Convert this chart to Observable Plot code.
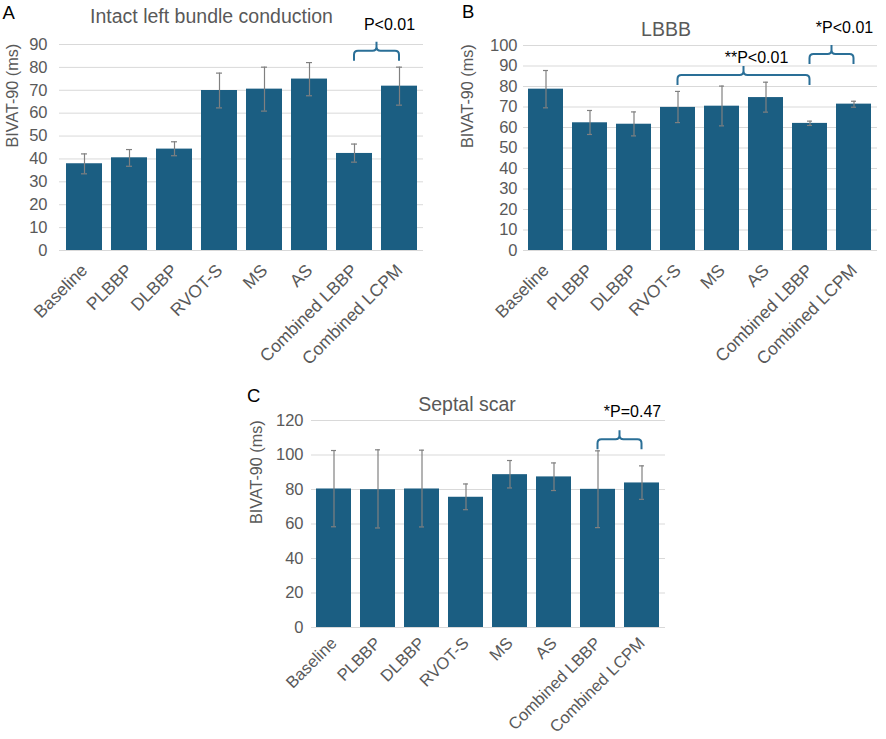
<!DOCTYPE html>
<html><head><meta charset="utf-8">
<script src="https://cdn.jsdelivr.net/npm/d3@7"></script>
<script src="https://cdn.jsdelivr.net/npm/@observablehq/plot@0.6"></script>
<style>
body{margin:0;background:#fff;font-family:"Liberation Sans",Arial,sans-serif;}
#fig{position:relative;width:886px;height:739px;overflow:hidden;background:#fff;}
.panel{position:absolute;}
.letter{position:absolute;font-size:18.5px;line-height:1;color:#000;}
.title{position:absolute;font-size:19.5px;line-height:1;color:#595959;transform:translateX(-50%);white-space:nowrap;}
</style></head><body><div id="fig"></div>
<script>
const categories = ["Baseline","PLBBP","DLBBP","RVOT-S","MS","AS","Combined LBBP","Combined LCPM"];
const yLabel = "BIVAT-90 (ms)";

// Panel A: Intact left bundle conduction
const intactMean = [37.9, 40.5, 44.3, 69.9, 70.5, 74.9, 42.4, 71.8];
const intactLow  = [33.5, 36.8, 41.4, 62.3, 60.9, 67.6, 38.6, 63.5];
const intactHigh = [42.2, 44.1, 47.5, 77.5, 80.1, 82.1, 46.5, 80.1];
const intactTicks = [0,10,20,30,40,50,60,70,80,90];
const intactBrackets = [
  {from:"Combined LBBP", to:"Combined LCPM", level:87, labelLevel:96.1, label:"P<0.01"}
];

// Panel B: LBBB
const lbbbMean = [78.7, 62.3, 61.6, 69.8, 70.4, 74.6, 62.0, 71.4];
const lbbbLow  = [69.6, 56.6, 55.9, 62.4, 60.8, 67.5, 61.0, 69.9];
const lbbbHigh = [87.8, 68.3, 67.6, 77.6, 80.2, 82.1, 63.1, 72.8];
const lbbbTicks = [0,10,20,30,40,50,60,70,80,90,100];
const lbbbBrackets = [
  {from:"RVOT-S", to:"Combined LBBP", level:85.4, labelLevel:91.2, label:"**P<0.01"},
  {from:"Combined LBBP", to:"Combined LCPM", level:95.6, labelLevel:105.8, label:"*P<0.01"}
];

// Panel C: Septal scar
const scarMean = [80.3, 79.9, 80.3, 75.5, 88.6, 87.3, 80.1, 83.8];
const scarLow  = [58.4, 57.7, 58.3, 68.3, 80.9, 79.4, 57.9, 74.3];
const scarHigh = [102.6, 103.0, 102.8, 83.2, 96.8, 95.4, 102.4, 93.7];
const scarTicks = [0,20,40,60,80,100,120];
const scarBrackets = [
  {from:"Combined LBBP", to:"Combined LCPM", level:108.8, labelLevel:121.7, label:"*P=0.47"}
];

const BAR = "#1b5e82", ERR = "#808080", GRID = "#d9d9d9", TXT = "#595959", BRACE = "#2a6f97";

function braceMark(brackets) {
  return (index, scales) => {
    const x = scales.x, y = scales.y;
    const bw = typeof x.bandwidth === "function" ? x.bandwidth() : 0;
    const g = d3.create("svg:g");
    for (const b of brackets) {
      const x1 = x(b.from) + bw / 2, x2 = x(b.to) + bw / 2, xm = (x1 + x2) / 2;
      const yl = y(b.level), r = 4, drop = 10, tip = 9;
      const p = `M${x1},${yl + drop}L${x1},${yl + r}Q${x1},${yl} ${x1 + r},${yl}L${xm - r},${yl}Q${xm},${yl} ${xm},${yl - r}L${xm},${yl - tip}` +
                `M${xm},${yl - r}Q${xm},${yl} ${xm + r},${yl}L${x2 - r},${yl}Q${x2},${yl} ${x2},${yl + r}L${x2},${yl + drop}`;
      g.append("path").attr("d", p).attr("fill", "none").attr("stroke", BRACE).attr("stroke-width", 2);
      g.append("text").attr("x", xm + 13).attr("y", y(b.labelLevel)).attr("text-anchor", "middle")
        .attr("font-size", 16).attr("fill", "#000").text(b.label);
    }
    return g.node();
  };
}

function panel(o) {
  const rows = categories.map((c, i) => ({cat: c, mean: o.mean[i], low: o.low[i], high: o.high[i]}));
  const yMax = o.ticks[o.ticks.length - 1];
  return Plot.plot({
    width: o.width, height: o.height,
    marginLeft: o.ml, marginRight: o.mr, marginTop: o.mt, marginBottom: o.mb,
    style: {fontFamily: "'Liberation Sans', Arial, sans-serif", fontSize: "16.5px", color: TXT, overflow: "visible", background: "transparent", maxWidth: "none"},
    x: {domain: categories, paddingInner: 0.2, paddingOuter: 0.1, label: null},
    y: {domain: [0, yMax], label: null},
    marks: [
      Plot.gridY(o.ticks, {stroke: GRID, strokeOpacity: 1, strokeWidth: 1}),
      Plot.barY(rows, {x: "cat", y: "mean", fill: BAR}),
      Plot.ruleX(rows, {x: "cat", y1: "low", y2: "high", stroke: ERR, strokeWidth: 1.2}),
      Plot.tickY(rows, {x: "cat", y: "low", stroke: ERR, strokeWidth: 1.2, insetLeft: 15, insetRight: 15}),
      Plot.tickY(rows, {x: "cat", y: "high", stroke: ERR, strokeWidth: 1.2, insetLeft: 15, insetRight: 15}),
      Plot.axisY(o.ticks, {tickSize: 0, tickPadding: o.ytp, label: null, fontSize: 16.5}),
      Plot.axisX({tickSize: 0, tickPadding: o.xtp, tickRotate: -45, label: null, fontSize: o.xfs}),
      Plot.text([yLabel], {frameAnchor: "left", rotate: -90, dx: o.ldx, fontSize: 16.2, fill: TXT, text: d => d}),
      braceMark(o.brackets)
    ]
  });
}

const fig = document.getElementById("fig");
function place(el, left, top) {
  const d = document.createElement("div");
  d.className = "panel"; d.style.left = left + "px"; d.style.top = top + "px";
  d.appendChild(el); fig.appendChild(d);
}
function label(cls, text, left, top) {
  const d = document.createElement("div");
  d.className = cls; d.textContent = text; d.style.left = left + "px"; d.style.top = top + "px";
  fig.appendChild(d);
}

place(panel({mean: intactMean, low: intactLow, high: intactHigh, ticks: intactTicks, brackets: intactBrackets,
  width: 440, height: 380, ml: 59, mr: 17, mt: 44, mb: 130, ytp: 12, ldx: -47, xtp: 17, xfs: 17.5}), 0, 0);
place(panel({mean: lbbbMean, low: lbbbLow, high: lbbbHigh, ticks: lbbbTicks, brackets: lbbbBrackets,
  width: 446, height: 380, ml: 83, mr: 9, mt: 45, mb: 130, ytp: 6, ldx: -55.5, xtp: 17, xfs: 17.5}), 440, 0);
place(panel({mean: scarMean, low: scarLow, high: scarHigh, ticks: scarTicks, brackets: scarBrackets,
  width: 450, height: 359, ml: 71, mr: 25, mt: 40, mb: 112, ytp: 8, ldx: -55, xtp: 13, xfs: 16.6}), 240, 380);

label("title", "Intact left bundle conduction", 211.5, 6.5);
label("title", "LBBB", 666, 19.5);
label("title", "Septal scar", 467, 394.5);
label("letter", "A", 2.5, 4.3);
label("letter", "B", 462, 3.3);
label("letter", "C", 247, 387);
</script></body></html>
